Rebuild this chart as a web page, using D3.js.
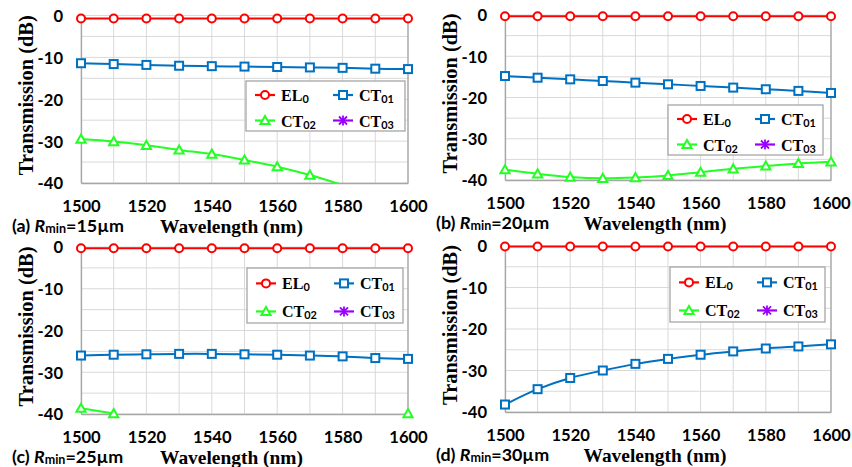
<!DOCTYPE html>
<html><head><meta charset="utf-8">
<script src="https://cdn.jsdelivr.net/npm/d3@7"></script>
<style>body{margin:0;background:#fff} svg{display:block}</style>
</head><body>
<svg id="chart" width="852" height="467"></svg>
<script>
// ---------------- DATA ----------------
const wavelengths = [1500,1510,1520,1530,1540,1550,1560,1570,1580,1590,1600];
const xTickValues = [1500,1520,1540,1560,1580,1600];
const yTickValues = [0,-10,-20,-30,-40];
const xGridValues = [1500,1510,1520,1530,1540,1550,1560,1570,1580,1590,1600];
const yGridValues = [0,-5,-10,-15,-20,-25,-30,-35,-40];
const panelLetters = ["(a)","(b)","(c)","(d)"];
const rminValues = ["15","20","25","30"];
const seriesMain = ["EL","CT","CT","CT"];
const seriesSub = ["0","01","02","03"];

// (a) Rmin = 15 um
const a_EL0  = [-0.7,-0.7,-0.7,-0.7,-0.7,-0.7,-0.7,-0.7,-0.7,-0.7,-0.7];
const a_CT01 = [-11.4,-11.6,-11.8,-12.0,-12.1,-12.2,-12.3,-12.4,-12.5,-12.7,-12.8];
const a_CT02 = [-29.5,-30.1,-31.0,-32.1,-33.1,-34.5,-36.1,-38.1,-40.5,null,null];
const a_CT03 = [null,null,null,null,null,null,null,null,null,null,null];
// (b) Rmin = 20 um
const b_EL0  = [-0.3,-0.3,-0.3,-0.3,-0.3,-0.3,-0.3,-0.3,-0.3,-0.3,-0.3];
const b_CT01 = [-14.8,-15.2,-15.6,-16.0,-16.4,-16.8,-17.2,-17.6,-18.0,-18.4,-18.9];
const b_CT02 = [-37.5,-38.5,-39.3,-39.6,-39.4,-38.9,-38.1,-37.3,-36.6,-36.0,-35.6];
const b_CT03 = [null,null,null,null,null,null,null,null,null,null,null];
// (c) Rmin = 25 um
const c_EL0  = [-0.3,-0.3,-0.3,-0.3,-0.3,-0.3,-0.3,-0.3,-0.3,-0.3,-0.3];
const c_CT01 = [-26.0,-25.8,-25.7,-25.6,-25.6,-25.7,-25.8,-26.0,-26.2,-26.6,-26.8];
const c_CT02 = [-38.6,-39.9,null,null,null,null,null,null,null,null,-39.9];
const c_CT03 = [null,null,null,null,null,null,null,null,null,null,null];
// (d) Rmin = 30 um
const d_EL0  = [-0.1,-0.1,-0.1,-0.1,-0.1,-0.1,-0.1,-0.1,-0.1,-0.1,-0.1];
const d_CT01 = [-38.2,-34.5,-31.8,-30.0,-28.4,-27.2,-26.2,-25.4,-24.7,-24.2,-23.7];
const d_CT02 = [null,null,null,null,null,null,null,null,null,null,null];
const d_CT03 = [null,null,null,null,null,null,null,null,null,null,null];

const panelSeries = [
  [a_EL0,a_CT01,a_CT02,a_CT03],
  [b_EL0,b_CT01,b_CT02,b_CT03],
  [c_EL0,c_CT01,c_CT02,c_CT03],
  [d_EL0,d_CT01,d_CT02,d_CT03]
];

// ---------------- STYLE / LAYOUT ----------------
const colors = ["#FF0000","#0070C0","#22FF22","#9900FF"];
const markerTypes = ["circle","square","triangle","star"];
const layouts = [
  {L:81, R:408, T:15.5, B:183, lg:[246,81,159,50]},
  {L:505,R:831, T:15,   B:180, lg:[668,105,155,50]},
  {L:81, R:408, T:247,  B:414, lg:[247,268,156,55]},
  {L:505,R:831, T:246,  B:412, lg:[670,267,155,55]}
];
const SANS = "Lato, 'Liberation Sans', sans-serif";
const SERIF = "'Liberation Serif', 'DejaVu Serif', serif";

const svg = d3.select("#chart");
svg.append("rect").attr("width",852).attr("height",467).attr("fill","#fff");

// size that makes a text (built at size 100) reach a target width
function fitSize(build, target){
  const t = svg.append("text").attr("x",0).attr("y",-500);
  build(t,100);
  const w = t.node().getBBox().width;
  t.remove();
  return 100*target/w;
}
const buildPlain = (str,fam)=>(t,s)=>t.attr("font-family",fam).attr("font-weight","bold").attr("font-size",s).text(str);
const buildLegend = (t,s)=>{
  t.attr("font-family",SERIF).attr("font-weight","bold").attr("font-size",s);
  t.append("tspan").text("CT");
  t.append("tspan").attr("font-family",SANS).attr("font-size",s*0.68).text("01");
};
const buildPanel = (t,s)=>{
  t.attr("font-family",SANS).attr("font-weight","bold").attr("font-size",s);
  t.append("tspan").text("(a) ");
  t.append("tspan").attr("font-style","italic").text("R");
  t.append("tspan").attr("font-size",s*0.7).text("min");
  t.append("tspan").text("=15\u00B5m");
};
const tickFS = fitSize(buildPlain("1500",SANS), 38.5);
const xTitleFS = fitSize(buildPlain("Wavelength (nm)",SERIF), 143);
const yTitleFS = fitSize(buildPlain("Transmission (dB)",SERIF), 160);
const legFS = fitSize(buildLegend, 35);
const panelFS = fitSize(buildPanel, 112);

function drawMarker(g, type, x, y, color){
  if(type==="circle"){
    g.append("circle").attr("cx",x).attr("cy",y).attr("r",4)
      .attr("fill","#fff").attr("stroke",color).attr("stroke-width",2);
  } else if(type==="square"){
    g.append("rect").attr("x",x-4).attr("y",y-4).attr("width",8).attr("height",8)
      .attr("fill","#fff").attr("stroke",color).attr("stroke-width",2);
  } else if(type==="triangle"){
    g.append("path").attr("d",`M${x},${y-4.5}L${x+4.6},${y+3.6}L${x-4.6},${y+3.6}Z`)
      .attr("fill","#fff").attr("stroke",color).attr("stroke-width",2).attr("stroke-linejoin","miter");
  } else {
    g.append("path").attr("d",`M${x-4},${y-4}L${x+4},${y+4}M${x-4},${y+4}L${x+4},${y-4}M${x},${y-5}L${x},${y+5}`)
      .attr("fill","none").attr("stroke",color).attr("stroke-width",1.8);
  }
}

layouts.forEach((lay,pi)=>{
  const g = svg.append("g");
  const x = d3.scaleLinear().domain([1500,1600]).range([lay.L,lay.R]);
  const y = d3.scaleLinear().domain([-40,0]).range([lay.B,lay.T]);

  // gridlines
  g.append("g").selectAll("line").data(yGridValues).join("line")
    .attr("x1",lay.L).attr("x2",lay.R).attr("y1",d=>y(d)).attr("y2",d=>y(d))
    .attr("stroke","#D9D9D9").attr("stroke-width",1);
  g.append("g").selectAll("line").data(xGridValues).join("line")
    .attr("x1",d=>x(d)).attr("x2",d=>x(d)).attr("y1",lay.T).attr("y2",lay.B)
    .attr("stroke","#D9D9D9").attr("stroke-width",1);
  // right border
  g.append("line").attr("x1",lay.R).attr("x2",lay.R).attr("y1",lay.T).attr("y2",lay.B)
    .attr("stroke","#A6A6A6").attr("stroke-width",1.3);

  // axes
  const ya = g.append("g").attr("transform",`translate(${lay.L},0)`)
    .call(d3.axisLeft(y).tickValues(yTickValues).tickSize(0).tickPadding(18).tickFormat(d=>String(d)));
  ya.select(".domain").attr("stroke","#A6A6A6").attr("stroke-width",1.3);
  ya.selectAll("text").attr("font-family",SANS).attr("font-weight","bold").attr("font-size",tickFS)
    .attr("fill","#000").attr("dy","0.36em");

  const xa = g.append("g").attr("transform",`translate(0,${lay.B})`)
    .call(d3.axisBottom(x).tickValues(xTickValues).tickSize(0).tickFormat(d=>String(d)));
  xa.select(".domain").attr("stroke","#A6A6A6").attr("stroke-width",1.3);
  xa.selectAll("text").attr("font-family",SANS).attr("font-weight","bold").attr("font-size",tickFS)
    .attr("fill","#000").attr("y",29).attr("dy","0");

  // clip
  const cid = "clip"+pi;
  svg.append("clipPath").attr("id",cid).append("rect")
    .attr("x",lay.L).attr("y",lay.T-6).attr("width",lay.R-lay.L+6).attr("height",lay.B-lay.T+6);

  const series = panelSeries[pi];
  [3,2,1,0].forEach(si=>{
    const vals = series[si];
    const pts = wavelengths.map((w,i)=>({w,v:vals[i]}));
    const line = d3.line().defined(d=>d.v!==null).x(d=>x(d.w)).y(d=>y(d.v)).curve(d3.curveCardinal);
    g.append("path").attr("d",line(pts)).attr("fill","none").attr("stroke",colors[si])
      .attr("stroke-width",2).attr("clip-path",`url(#${cid})`);
    const mg = g.append("g");
    pts.filter(d=>d.v!==null && d.v>=-40.05 && d.v<=0.5).forEach(d=>drawMarker(mg,markerTypes[si],x(d.w),y(d.v),colors[si]));
  });

  // legend
  const [lx,ly,lw,lh] = lay.lg;
  const lg = g.append("g");
  lg.append("rect").attr("x",lx).attr("y",ly).attr("width",lw).attr("height",lh)
    .attr("fill","#fff").attr("stroke","#A6A6A6").attr("stroke-width",1.3);
  const rowsY = [ly+lh*0.28, ly+lh*0.79];
  const colsX = [lx+9, lx+87];
  [0,1,2,3].forEach(si=>{
    const cx = colsX[si%2], cy = rowsY[Math.floor(si/2)];
    lg.append("line").attr("x1",cx).attr("x2",cx+20).attr("y1",cy).attr("y2",cy)
      .attr("stroke",colors[si]).attr("stroke-width",2.2);
    drawMarker(lg,markerTypes[si],cx+10,cy,colors[si]);
    const t = lg.append("text").attr("x",cx+26).attr("y",cy+6)
      .attr("font-family",SERIF).attr("font-weight","bold").attr("font-size",legFS).attr("fill","#000");
    t.append("tspan").text(seriesMain[si]);
    t.append("tspan").attr("font-family",SANS).attr("font-size",legFS*0.68).attr("dy",2).text(seriesSub[si]);
  });

  // axis titles
  g.append("text").attr("x",(lay.L+lay.R)/2-13).attr("y",lay.B+49.5).attr("text-anchor","middle")
    .attr("font-family",SERIF).attr("font-weight","bold").attr("font-size",xTitleFS).attr("fill","#000")
    .text("Wavelength (nm)");
  g.append("text").attr("transform",`translate(${lay.L-48},${(lay.T+lay.B)/2-4}) rotate(-90)`)
    .attr("text-anchor","middle")
    .attr("font-family",SERIF).attr("font-weight","bold").attr("font-size",yTitleFS).attr("fill","#000")
    .text("Transmission (dB)");

  // panel label
  const pl = g.append("text").attr("x",lay.L-69).attr("y",lay.B+48.5)
    .attr("font-family",SANS).attr("font-weight","bold").attr("font-size",panelFS).attr("fill","#000");
  pl.append("tspan").text(panelLetters[pi]+" ");
  pl.append("tspan").attr("font-style","italic").text("R");
  pl.append("tspan").attr("font-size",panelFS*0.7).attr("dy",1).text("min");
  pl.append("tspan").attr("dy",-1).text("="+rminValues[pi]+"\u00B5m");
});
</script>
</body></html>
